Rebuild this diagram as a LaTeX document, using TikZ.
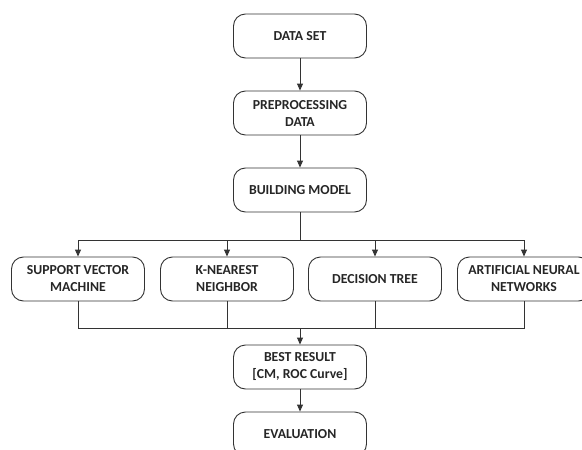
\documentclass[tikz,border=0pt]{standalone}
\usepackage{fontspec}
\setmainfont{Carlito}
\usetikzlibrary{arrows.meta}
\tikzset{
  stage/.style={draw=black!80, line width=0.9pt, rounded corners=12pt,
    minimum width=133pt, minimum height=44pt, align=center, inner sep=2pt,
    font=\fontsize{13.75}{17}\selectfont\bfseries, text=black!85},
  link/.style={draw=black!80, line width=0.9pt},
  flow/.style={link, -{Triangle[length=7pt,width=6pt]}}
}
\begin{document}
\begin{tikzpicture}[x=1pt,y=-1pt]
  \useasboundingbox (0,0) rectangle (582,450);
  \node[stage] (dataset) at (300,36) {DATA SET};
  \node[stage] (prep) at (300,113) {PREPROCESSING\\DATA};
  \node[stage] (build) at (300,190) {BUILDING MODEL};
  \node[stage] (svm) at (78,279) {SUPPORT VECTOR\\MACHINE};
  \node[stage] (knn) at (227,279) {K-NEAREST\\NEIGHBOR};
  \node[stage] (dtree) at (375,279) {DECISION TREE};
  \node[stage] (ann) at (524,279) {ARTIFICIAL NEURAL\\NETWORKS};
  \node[stage] (best) at (300,367) {BEST RESULT\\{}[CM, ROC Curve]};
  \node[stage] (eval) at (300,434) {EVALUATION};
  \coordinate (split) at (300,240);
  \coordinate (join) at (300,328);
  % main line
  \draw[flow] (dataset) -- (prep);
  \draw[flow] (prep) -- (build);
  \draw[link] (build) -- (split);
  \foreach \m in {svm,knn,dtree,ann}{
    \draw[flow] (split) -| (\m);
    \draw[link] (\m) |- (join);
  }
  \draw[flow] (join) -- (best);
  \draw[flow] (best) -- (eval);
\end{tikzpicture}
\end{document}
